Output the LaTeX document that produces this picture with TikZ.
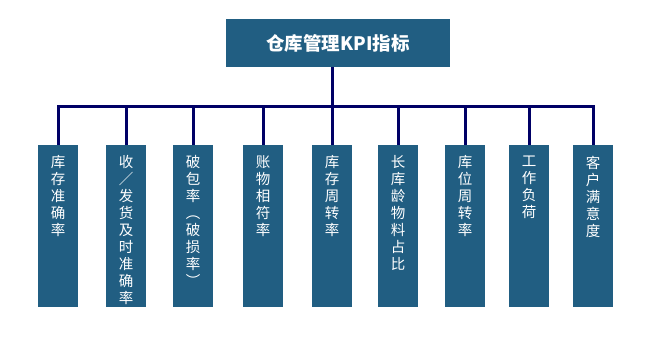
\documentclass[tikz,border=0pt]{standalone}
\usepackage{fontspec}
\newfontfamily\cjk{Noto Sans CJK SC}
\definecolor{boxblue}{RGB}{33,94,130}
\definecolor{navy}{RGB}{0,0,102}
\tikzset{
  colbox/.style={fill=boxblue, draw=none, minimum width=40pt, minimum height=162pt, inner sep=0pt, anchor=north},
  coltext/.style={text=white, font=\cjk\fontsize{14.5pt}{17pt}\selectfont, align=center, inner sep=0pt, anchor=north},
  topbox/.style={fill=boxblue, draw=none, minimum width=224pt, minimum height=48pt, inner sep=0pt, text=white, font=\cjk\bfseries\fontsize{18.5pt}{20pt}\selectfont},
  conn/.style={draw=navy, line width=3pt, line join=miter}
}
\begin{document}
\begin{tikzpicture}[x=1pt,y=1pt]
\useasboundingbox (0,0) rectangle (650,350);
\node[topbox] (top) at (338,307) {仓库管理KPI指标};
\coordinate (busy) at (0,243);
\foreach \i/\x/\t in {1/58/{库\\存\\准\\确\\率},
                      2/126/{收\\／\\发\\货\\及\\时\\准\\确\\率},
                      3/193/{破\\包\\率\\︵\\破\\损\\率\\︶},
                      4/263/{账\\物\\相\\符\\率},
                      5/332/{库\\存\\周\\转\\率},
                      6/398/{长\\库\\龄\\物\\料\\占\\比},
                      7/465/{库\\位\\周\\转\\率},
                      8/529/{工\\作\\负\\荷},
                      9/593/{客\\户\\满\\意\\度}}{
  \node[colbox] (c\i) at (\x,205) {};
  \node[coltext] (t\i) at ([yshift=-10.5pt]c\i.north) {\t};
}
\draw[conn] (c1.north) -- (c1.north |- busy) -- (c9.north |- busy) -- (c9.north);
\foreach \i in {2,...,8}{
  \draw[conn] (c\i.north) -- (c\i.north |- busy);
}
\draw[conn] (top.south -| c5.north) -- (c5.north |- busy);
\end{tikzpicture}
\end{document}
